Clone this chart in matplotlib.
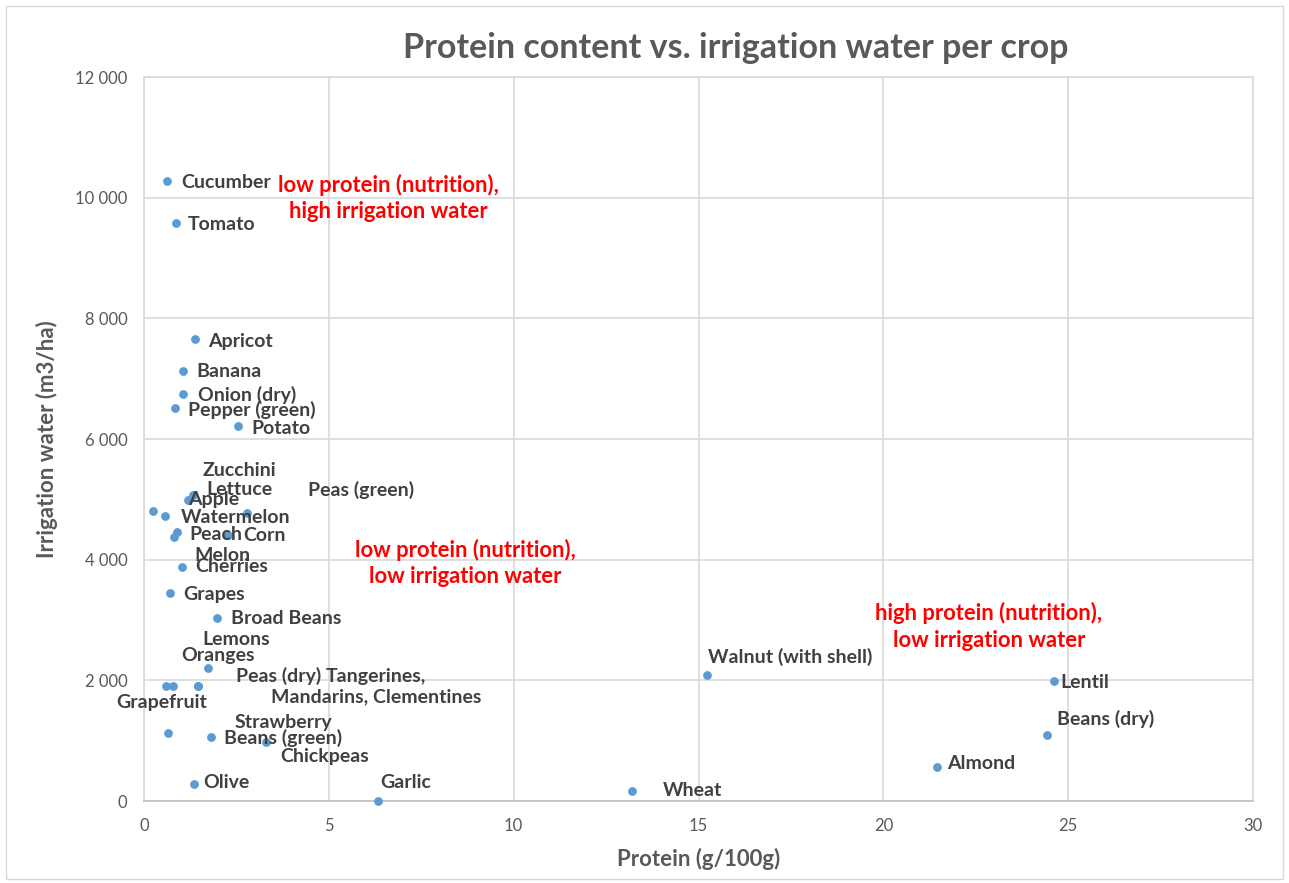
import matplotlib
matplotlib.use("Agg")
from matplotlib import pyplot as plt
from matplotlib.patches import Rectangle
from matplotlib.ticker import FuncFormatter, MultipleLocator

plt.rcParams['font.family'] = ['Lato', 'DejaVu Sans']

# crop data
crops = ["Cucumber", "Tomato", "Apricot", "Banana", "Onion (dry)", "Pepper (green)",
         "Potato", "Zucchini", "Lettuce", "Apple", "Watermelon", "Peas (green)",
         "Peach", "Melon", "Corn", "Cherries", "Grapes", "Broad Beans", "Lemons",
         "Oranges", "Peas (dry)", "Tangerines,\nMandarins, Clementines", "Grapefruit",
         "Strawberry", "Beans (green)", "Chickpeas", "Olive", "Garlic", "Wheat",
         "Walnut (with shell)", "Lentil", "Beans (dry)", "Almond"]
protein = [0.62, 0.87, 1.38, 1.05, 1.05, 0.84,
           2.54, 1.18, 1.32, 0.24, 0.58, 2.78,
           0.88, 0.82, 2.28, 1.02, 0.70, 1.97, 1.47,
           1.47, 1.74, 0.78, 0.60,
           0.64, 1.80, 3.30, 1.36, 6.33, 13.19,
           15.22, 24.61, 24.44, 21.44]
water = [10270, 9580, 7650, 7130, 6750, 6520,
         6210, 4990, 5070, 4810, 4720, 4780,
         4460, 4370, 4410, 3880, 3440, 3040, 1900,
         1900, 2210, 1900, 1900,
         1130, 1060, 980, 280, 0, 170,
         2090, 1990, 1100, 570]

# label offsets in pixels (dx, dy) from each point, as placed in the original
offsets = [(14, -1), (12, -1), (13, -2), (14, -1), (15, -1), (13, -2),
           (13, -2), (15, 29), (14, 6), (35, 11), (15, -1), (61, 23),
           (13, -3), (20, -18), (15, -1), (14, 0), (13, -1), (14, -1), (4, 47),
           (-17, 31), (28, -8), (203, 0), (-50, -16),
           (67, 10), (13, -1), (14, -15), (9, 2), (2, 18), (31, 0),
           (1, 18), (7, -2), (10, 16), (11, 3)]

zones = ["low protein (nutrition),\nhigh irrigation water",
         "low protein (nutrition),\nlow irrigation water",
         "high protein (nutrition),\nlow irrigation water"]
zone_pos = [(0.22, 0.833), (0.29, 0.329), (0.762, 0.241)]

W, H = 1289, 883
fig = plt.figure(figsize=(W / 100, H / 100), dpi=100)
ax = fig.add_axes([144 / W, 1 - 801 / H, (1253 - 144) / W, (801 - 77) / H])

grid_c = "#d9d9d9"
ax.scatter(protein, water, s=28, color="#5b9bd5", zorder=3, clip_on=False)
ax.set_xlim(0, 30)
ax.set_ylim(0, 12000)
ax.xaxis.set_major_locator(MultipleLocator(5))
ax.yaxis.set_major_locator(MultipleLocator(2000))
ax.yaxis.set_major_formatter(FuncFormatter(lambda v, p: f"{int(v):,}".replace(",", " ")))
ax.grid(True, color=grid_c, lw=1.2)
ax.set_axisbelow(True)
for s in ax.spines.values():
    s.set_color(grid_c)
    s.set_linewidth(1.2)
ax.spines['bottom'].set_color("#bfbfbf")
ax.tick_params(length=0, colors="#595959", labelsize=12, pad=12)

for name, x, y, (dx, dy) in zip(crops, protein, water, offsets):
    multi = "\n" in name
    ax.annotate(name, (x, y), xytext=(dx * 0.72, dy * 0.72), textcoords="offset points",
                ha="center" if multi else "left", va="center", fontsize=14,
                fontweight="bold", color="#404040", linespacing=1.25, zorder=4)

for txt, (fx, fy) in zip(zones, zone_pos):
    ax.text(fx, fy, txt, transform=ax.transAxes, ha="center", va="center",
            fontsize=15.8, fontweight="bold", color="#ff0000", linespacing=1.3)

fig.text(736 / W, 1 - 48 / H, "Protein content vs. irrigation water per crop",
         ha="center", va="center", fontsize=24.5, fontweight="bold", color="#595959")
ax.set_xlabel("Protein (g/100g)", fontsize=16, fontweight="bold", color="#595959", labelpad=10)
ax.set_ylabel("Irrigation water (m3/ha)", fontsize=16, fontweight="bold", color="#595959", labelpad=12)

fig.add_artist(Rectangle((6 / W, 4 / H), 1277 / W, 873 / H, transform=fig.transFigure,
                         fill=False, edgecolor=grid_c, lw=1))

fig.savefig("out.png", dpi=100)
